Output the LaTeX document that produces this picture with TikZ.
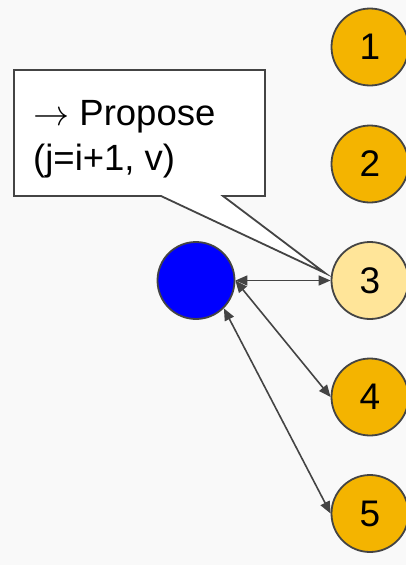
\documentclass[tikz,border=0pt]{standalone}
\usepackage{fontspec}
\setmainfont{Liberation Sans}
\usetikzlibrary{arrows.meta}
\definecolor{bgcol}{HTML}{F9F9F9}
\definecolor{linecol}{HTML}{444444}
\definecolor{peerorange}{HTML}{F4B400}
\definecolor{peerlight}{HTML}{FFE599}
\begin{document}
\begin{tikzpicture}[x=1pt, y=-1pt,
    peer/.style={circle, draw=linecol, line width=1.8pt, fill=peerorange,
                 minimum size=77pt, inner sep=0pt,
                 font=\fontsize{37}{37}\selectfont},
    arr/.style={{Triangle[length=12pt,width=10pt]}-{Triangle[length=12pt,width=10pt]},
                draw=linecol, line width=1.6pt}
  ]
  \fill[bgcol] (0,0) rectangle (406,565);
  \useasboundingbox (0,0) rectangle (406,565);

  \node[peer] (p1) at (370,47) {1};
  \node[peer] (p2) at (370,164) {2};
  \node[peer, fill=peerlight] (p3) at (370,280.5) {3};
  \node[peer] (p4) at (370,397) {4};
  \node[peer] (p5) at (370,513.5) {5};
  \node[peer, fill=blue] (leader) at (196,280.5) {};

  % callout with message
  \coordinate (tip) at (325,273);
  \draw[linecol, line width=1.8pt, fill=white]
    (14,70) -- (265,70) -- (265,196) -- (223,196) -- (tip)
    -- (161,196) -- (14,196) -- cycle;
  \node[anchor=base west, align=left, inner sep=0pt,
        font=\fontsize{36.5}{45}\selectfont] (msg) at (33,170)
    {\scalebox{1.45}{$\rightarrow$} Propose\\(j=i+1, v)};

  \draw[arr] (leader.east) -- (p3.west);
  \draw[arr] (leader.east) -- (p4.west);
  \draw[arr] (leader.south east) -- (p5.west);
\end{tikzpicture}
\end{document}
